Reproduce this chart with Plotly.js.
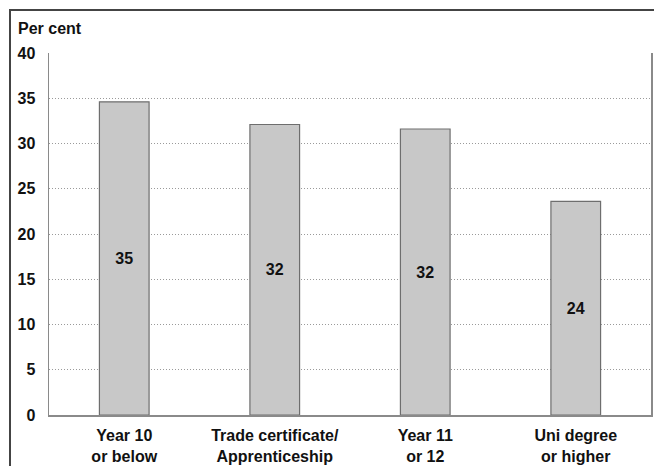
<!DOCTYPE html>
<html>
<head>
<meta charset="utf-8">
<script src="https://cdn.plot.ly/plotly-3.0.1.min.js"></script>
<style>
  html, body { margin: 0; padding: 0; background: #fff; }
  #wrap { position: relative; width: 654px; height: 466px; overflow: hidden; }
  #chart { position: absolute; left: 0; top: 0; width: 654px; height: 466px; }
  #frame { position: absolute; left: 9px; top: 9px; width: 700px; height: 500px;
           border-top: 2px solid #444; border-left: 2px solid #444; pointer-events: none; }
</style>
</head>
<body>
<div id="wrap">
  <div id="chart"></div>
  <div id="frame"></div>
</div>
<script>
const categories = ["Year 10<br>or below", "Trade certificate/<br>Apprenticeship", "Year 11<br>or 12", "Uni degree<br>or higher"];
const values = [34.6, 32.1, 31.6, 23.6];
const valueLabels = ["35", "32", "32", "24"];
const yTicks = [0, 5, 10, 15, 20, 25, 30, 35, 40];

const font = "Liberation Sans, Arial, sans-serif";

const trace = {
  type: "bar",
  x: categories,
  y: values,
  text: valueLabels,
  textposition: "inside",
  insidetextanchor: "middle",
  textangle: 0,
  textfont: { family: font, size: 16, color: "#111", weight: "bold" },
  marker: { color: "#c8c8c8", line: { color: "#6e6e6e", width: 1.2 } },
  hoverinfo: "none"
};

const layout = {
  width: 654,
  height: 466,
  margin: { l: 49, r: 3, t: 53, b: 51, pad: 0 },
  paper_bgcolor: "#fff",
  plot_bgcolor: "#fff",
  bargap: 0.67,
  showlegend: false,
  font: { family: font, size: 16, color: "#111", weight: "bold" },
  xaxis: {
    type: "category",
    showgrid: false,
    showline: true,
    linecolor: "#8a8a8a",
    linewidth: 1.5,
    ticks: "outside",
    ticklen: 5,
    tickcolor: "rgba(0,0,0,0)",
    tickfont: { family: font, size: 16, color: "#111", weight: "bold" },
    fixedrange: true
  },
  yaxis: {
    range: [0, 40],
    tickvals: yTicks,
    ticktext: yTicks.map(String),
    showgrid: true,
    gridcolor: "#9a9a9a",
    griddash: "1px,2px",
    gridwidth: 1,
    zeroline: false,
    showline: true,
    mirror: true,
    linecolor: "#8a8a8a",
    linewidth: 1.5,
    ticks: "outside",
    ticklen: 9,
    tickcolor: "rgba(0,0,0,0)",
    tickfont: { family: font, size: 16, color: "#111", weight: "bold" },
    fixedrange: true
  },
  annotations: [{
    text: "Per cent",
    xref: "paper", yref: "paper",
    x: -0.054, y: 1.0, xanchor: "left", yanchor: "bottom",
    yshift: 14,
    showarrow: false,
    font: { family: font, size: 16, color: "#111", weight: "bold" }
  }]
};

Plotly.newPlot("chart", [trace], layout, { displayModeBar: false, staticPlot: true });
</script>
</body>
</html>
